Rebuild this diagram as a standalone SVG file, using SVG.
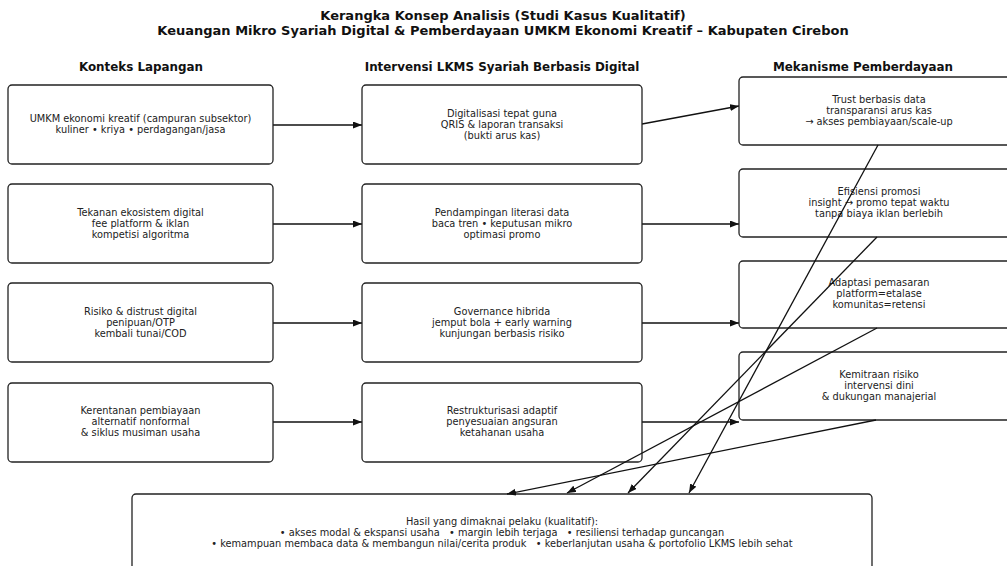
<svg xmlns="http://www.w3.org/2000/svg" width="1007" height="566" viewBox="0 0 1007 566">
<defs>
<marker id="ah" markerUnits="userSpaceOnUse" markerWidth="10" markerHeight="8" refX="9" refY="3.5" orient="auto">
<path d="M0,0 L9,3.5 L0,7 z" fill="#111"/>
</marker>
<style>
.box{fill:#fff;stroke:#222;stroke-width:1.3}
.t{font-family:"DejaVu Sans",sans-serif;font-size:9.8px;fill:#222;text-anchor:middle;white-space:pre}
.h{font-family:"DejaVu Sans",sans-serif;font-size:11.9px;font-weight:bold;fill:#111;text-anchor:middle}
.ti{font-family:"DejaVu Sans",sans-serif;font-size:13px;font-weight:bold;fill:#111;text-anchor:middle}
.c{stroke:#111;stroke-width:1.3;fill:none;marker-end:url(#ah)}
</style>
</defs>
<rect width="1007" height="566" fill="#fff"/>
<g id="title">
<text class="ti" x="503" y="20">Kerangka Konsep Analisis (Studi Kasus Kualitatif)</text>
<text class="ti" x="503" y="35">Keuangan Mikro Syariah Digital &amp; Pemberdayaan UMKM Ekonomi Kreatif – Kabupaten Cirebon</text>
</g>
<g id="headers">
<text class="h" x="141" y="71">Konteks Lapangan</text>
<text class="h" x="502" y="71">Intervensi LKMS Syariah Berbasis Digital</text>
<text class="h" x="863" y="71">Mekanisme Pemberdayaan</text>
</g>
<g id="connectors">
<line class="c" x1="273" y1="125" x2="362" y2="125"/>
<line class="c" x1="273" y1="224" x2="362" y2="224"/>
<line class="c" x1="273" y1="323" x2="362" y2="323"/>
<line class="c" x1="273" y1="422" x2="362" y2="422"/>
<line class="c" x1="642" y1="124" x2="739" y2="106"/>
<line class="c" x1="642" y1="224" x2="739" y2="224"/>
<line class="c" x1="642" y1="323" x2="739" y2="323"/>
<line class="c" x1="642" y1="422" x2="739" y2="422"/>
</g>
<g id="n_l1"><rect class="box" x="8" y="85" width="265" height="79" rx="4"/>
<text class="t" x="140.5" y="122">UMKM ekonomi kreatif (campuran subsektor)</text>
<text class="t" x="140.5" y="133">kuliner • kriya • perdagangan/jasa</text></g>
<g id="n_l2"><rect class="box" x="8" y="184" width="265" height="79" rx="4"/>
<text class="t" x="140.5" y="216">Tekanan ekosistem digital</text>
<text class="t" x="140.5" y="227">fee platform &amp; iklan</text>
<text class="t" x="140.5" y="238">kompetisi algoritma</text></g>
<g id="n_l3"><rect class="box" x="8" y="283" width="265" height="79" rx="4"/>
<text class="t" x="140.5" y="315">Risiko &amp; distrust digital</text>
<text class="t" x="140.5" y="326">penipuan/OTP</text>
<text class="t" x="140.5" y="337">kembali tunai/COD</text></g>
<g id="n_l4"><rect class="box" x="8" y="383" width="265" height="79" rx="4"/>
<text class="t" x="140.5" y="414">Kerentanan pembiayaan</text>
<text class="t" x="140.5" y="425">alternatif nonformal</text>
<text class="t" x="140.5" y="436">&amp; siklus musiman usaha</text></g>
<g id="n_m1"><rect class="box" x="362" y="85" width="280" height="79" rx="4"/>
<text class="t" x="502" y="117">Digitalisasi tepat guna</text>
<text class="t" x="502" y="128">QRIS &amp; laporan transaksi</text>
<text class="t" x="502" y="139">(bukti arus kas)</text></g>
<g id="n_m2"><rect class="box" x="362" y="184" width="280" height="79" rx="4"/>
<text class="t" x="502" y="216">Pendampingan literasi data</text>
<text class="t" x="502" y="227">baca tren • keputusan mikro</text>
<text class="t" x="502" y="238">optimasi promo</text></g>
<g id="n_m3"><rect class="box" x="362" y="283" width="280" height="79" rx="4"/>
<text class="t" x="502" y="315">Governance hibrida</text>
<text class="t" x="502" y="326">jemput bola + early warning</text>
<text class="t" x="502" y="337">kunjungan berbasis risiko</text></g>
<g id="n_m4"><rect class="box" x="362" y="383" width="280" height="79" rx="4"/>
<text class="t" x="502" y="414">Restrukturisasi adaptif</text>
<text class="t" x="502" y="425">penyesuaian angsuran</text>
<text class="t" x="502" y="436">ketahanan usaha</text></g>
<g id="n_r1"><rect class="box" x="739" y="77" width="280" height="68" rx="4"/>
<text class="t" x="879" y="103">Trust berbasis data</text>
<text class="t" x="879" y="114">transparansi arus kas</text>
<text class="t" x="879" y="125">→ akses pembiayaan/scale-up</text></g>
<g id="n_r2"><rect class="box" x="739" y="169" width="280" height="68" rx="4"/>
<text class="t" x="879" y="195">Efisiensi promosi</text>
<text class="t" x="879" y="206">insight → promo tepat waktu</text>
<text class="t" x="879" y="217">tanpa biaya iklan berlebih</text></g>
<g id="n_r3"><rect class="box" x="739" y="261" width="280" height="67" rx="4"/>
<text class="t" x="879" y="286">Adaptasi pemasaran</text>
<text class="t" x="879" y="297">platform=etalase</text>
<text class="t" x="879" y="308">komunitas=retensi</text></g>
<g id="n_r4"><rect class="box" x="739" y="352" width="280" height="68" rx="4"/>
<text class="t" x="879" y="378">Kemitraan risiko</text>
<text class="t" x="879" y="389">intervensi dini</text>
<text class="t" x="879" y="400">&amp; dukungan manajerial</text></g>
<g id="n_out"><rect class="box" x="132" y="494" width="740" height="90" rx="4"/>
<text class="t" x="502" y="525">Hasil yang dimaknai pelaku (kualitatif):</text>
<text class="t" x="502" y="536">• akses modal &amp; ekspansi usaha   • margin lebih terjaga   • resiliensi terhadap guncangan</text>
<text class="t" x="502" y="547">• kemampuan membaca data &amp; membangun nilai/cerita produk   • keberlanjutan usaha &amp; portofolio LKMS lebih sehat</text></g>
<g id="connectors2">
<line class="c" x1="878" y1="145" x2="689" y2="493"/>
<line class="c" x1="877" y1="237" x2="628" y2="493"/>
<line class="c" x1="877" y1="328" x2="567" y2="493"/>
<line class="c" x1="876" y1="420" x2="507" y2="494"/>
</g>
</svg>
